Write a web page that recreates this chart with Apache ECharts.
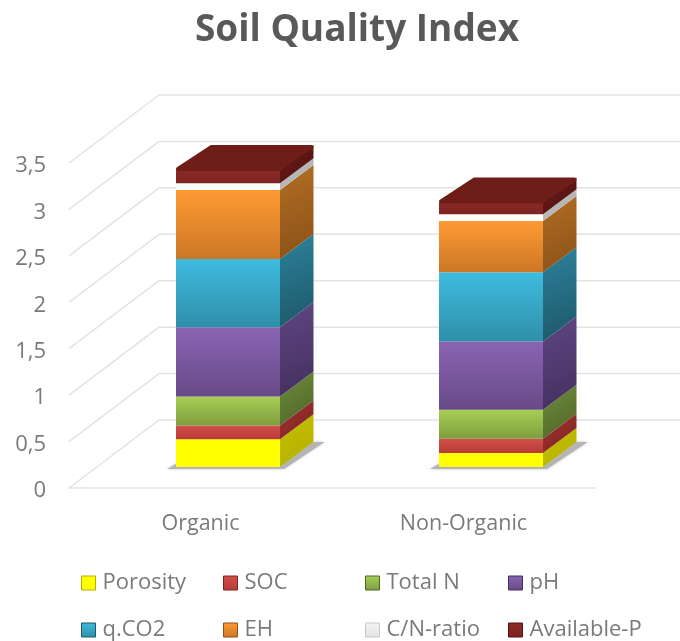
<!DOCTYPE html>
<html>
<head>
<meta charset="utf-8">
<title>Soil Quality Index</title>
<script src="https://cdn.jsdelivr.net/npm/echarts@6/dist/echarts.min.js"></script>
<style>
    html, body { margin: 0; padding: 0; background: #fff; }
    #chart { width: 680px; height: 641px; }
</style>
</head>
<body>
<div id="chart"></div>
<script>
var categories = ['Organic', 'Non-Organic'];
var yTicks = [0, 0.5, 1, 1.5, 2, 2.5, 3, 3.5];

var porosity = [0.30, 0.15];
var soc = [0.147, 0.154];
var totalN = [0.312, 0.312];
var pH = [0.747, 0.735];
var qCO2 = [0.735, 0.747];
var eh = [0.743, 0.55];
var cnRatio = [0.072, 0.075];
var availableP = [0.143, 0.125];

var names = ['Porosity', 'SOC', 'Total N', 'pH', 'q.CO2', 'EH', 'C/N-ratio', 'Available-P'];
var values = [porosity, soc, totalN, pH, qCO2, eh, cnRatio, availableP];

// front top, front bottom, side top, side bottom
var shades = [
    ['#ffff00', '#ffff00', '#c4c000', '#b4b000'],
    ['#d0504b', '#b83a36', '#a23230', '#7c2422'],
    ['#a8ce55', '#7f9d3e', '#6f8c3a', '#4e6428'],
    ['#8a64b2', '#684a88', '#5f4682', '#432f5e'],
    ['#3ebcdf', '#2f8fa9', '#2c829c', '#1e5768'],
    ['#ff9a33', '#cb7726', '#b26e23', '#8a5119'],
    ['#ffffff', '#ffffff', '#bdbdbd', '#b0b0b0'],
    ['#8c2a27', '#7c2421', '#631a17', '#551411']
];
var topColor = '#6f1d19';

// fake 3d: wall depth and where the bar stands on the floor
var wallDX = 90, wallDY = 68;
var barOffX = 27.5, barOffY = 21;
var barDX = 33.5, barDY = 25;
var barWidth = 104;

function grad(c0, c1, diagonal) {
    return new echarts.graphic.LinearGradient(0, 0, diagonal ? 1 : 0, 1, [
        { offset: 0, color: c0 },
        { offset: 1, color: c1 }
    ]);
}

function poly(points, fill, z2) {
    return { type: 'polygon', shape: { points: points }, style: { fill: fill }, z2: z2 || 0 };
}

function renderWalls(params, api) {
    var p = api.coord([0, api.value(0)]);
    var sys = params.coordSys;
    var color = '#e3e3e3';
    var left = sys.x;
    return {
        type: 'group',
        children: [{
            type: 'line',
            shape: { x1: left, y1: p[1], x2: left + wallDX, y2: p[1] - wallDY },
            style: { stroke: color, lineWidth: 1.5 }
        }, {
            type: 'line',
            shape: { x1: left + wallDX, y1: p[1] - wallDY, x2: left + sys.width + wallDX, y2: p[1] - wallDY },
            style: { stroke: color, lineWidth: 1.5 }
        }]
    };
}

function makeRenderSegment(seriesIndex) {
    return function (params, api) {
        var low = api.coord([api.value(0), api.value(1)]);
        var high = api.coord([api.value(0), api.value(2)]);
        var x0 = low[0] + barOffX - barWidth / 2;
        var x1 = x0 + barWidth;
        var y0 = low[1] - barOffY;
        var y1 = high[1] - barOffY;
        var s = shades[seriesIndex];
        var children = [];

        if (seriesIndex === 0) {
            children.push({
                type: 'polygon',
                shape: {
                    points: [[x0 - 9, y0 + 2], [x0, y0 - 3], [x1, y0], [x1 + barDX, y0 - barDY],
                        [x1 + barDX + 11, y0 - barDY], [x1 + 4, y0 + 2]]
                },
                style: { fill: '#b4b4b4', shadowBlur: 3, shadowColor: '#c4c4c4' }
            });
        }
        children.push(poly([[x0, y0], [x1, y0], [x1, y1], [x0, y1]], grad(s[0], s[1])));
        children.push(poly([[x1, y0], [x1 + barDX, y0 - barDY], [x1 + barDX, y1 - barDY], [x1, y1]], grad(s[2], s[3], true)));
        if (seriesIndex === names.length - 1) {
            children.push({
                type: 'polygon',
                shape: {
                    points: [[x0 + 2, y1 - 1], [x1 - 1.5, y1 - 1], [x1 + barDX - 2, y1 - barDY + 2], [x0 + barDX + 2, y1 - barDY + 2]]
                },
                style: { fill: topColor, stroke: topColor, lineWidth: 4, lineJoin: 'round' }
            });
        }
        return { type: 'group', children: children };
    };
}

var series = [{
    name: 'walls',
    type: 'custom',
    silent: true,
    renderItem: renderWalls,
    encode: { y: 0 },
    data: yTicks.map(function (t) { return [t]; }),
    z: 1
}];

var running = categories.map(function () { return 0; });
names.forEach(function (name, i) {
    var rows = categories.map(function (c, k) {
        var row = [k, running[k], running[k] + values[i][k]];
        running[k] = row[2];
        return row;
    });
    series.push({
        name: name,
        type: 'custom',
        renderItem: makeRenderSegment(i),
        encode: { x: 0, y: [1, 2] },
        itemStyle: { color: shades[i][1] },
        data: rows,
        z: 2
    });
});

var legendCols = [81, 223, 365, 508];
var legendRows = [572, 619];
var legends = names.map(function (name, i) {
    var s = shades[i];
    return {
        data: [{
            name: name,
            icon: 'rect',
            itemStyle: {
                color: i === 6 ? grad('#f4f4f4', '#e2e2e2') : grad(s[0], s[1]),
                borderColor: i === 6 ? '#c8c8c8' : s[3],
                borderWidth: 1
            }
        }],
        left: legendCols[i % 4],
        top: legendRows[Math.floor(i / 4)],
        padding: 0,
        itemWidth: 14,
        itemHeight: 14,
        itemGap: 0,
        selectedMode: false,
        textStyle: { color: '#7a7a7a', fontFamily: 'Open Sans', fontSize: 22, padding: [0, 0, 0, 2] }
    };
});

var chart = echarts.init(document.getElementById('chart'), null, { renderer: 'canvas' });
chart.setOption({
    animation: false,
    backgroundColor: '#ffffff',
    title: {
        text: 'Soil Quality Index',
        left: 352,
        top: 7,
        textAlign: 'center',
        textStyle: { color: '#595959', fontFamily: 'Open Sans', fontWeight: 'bold', fontSize: 37 }
    },
    legend: legends,
    grid: { left: 69, right: 85, top: 163, bottom: 153 },
    xAxis: {
        type: 'category',
        data: categories,
        axisLine: { lineStyle: { color: '#e3e3e3', width: 1.5 } },
        axisTick: { show: false },
        axisLabel: { color: '#7a7a7a', fontFamily: 'Open Sans', fontSize: 21.5, margin: 25 }
    },
    yAxis: {
        type: 'value',
        min: 0,
        max: 3.5,
        interval: 0.5,
        axisLine: { show: false },
        axisTick: { show: false },
        splitLine: { show: false },
        axisLabel: {
            color: '#7a7a7a',
            fontFamily: 'Open Sans',
            fontSize: 22,
            margin: 23,
            verticalAlign: 'top',
            lineHeight: 6,
            formatter: function (v) { return String(v).replace('.', ','); }
        }
    },
    series: series
});
</script>
</body>
</html>
